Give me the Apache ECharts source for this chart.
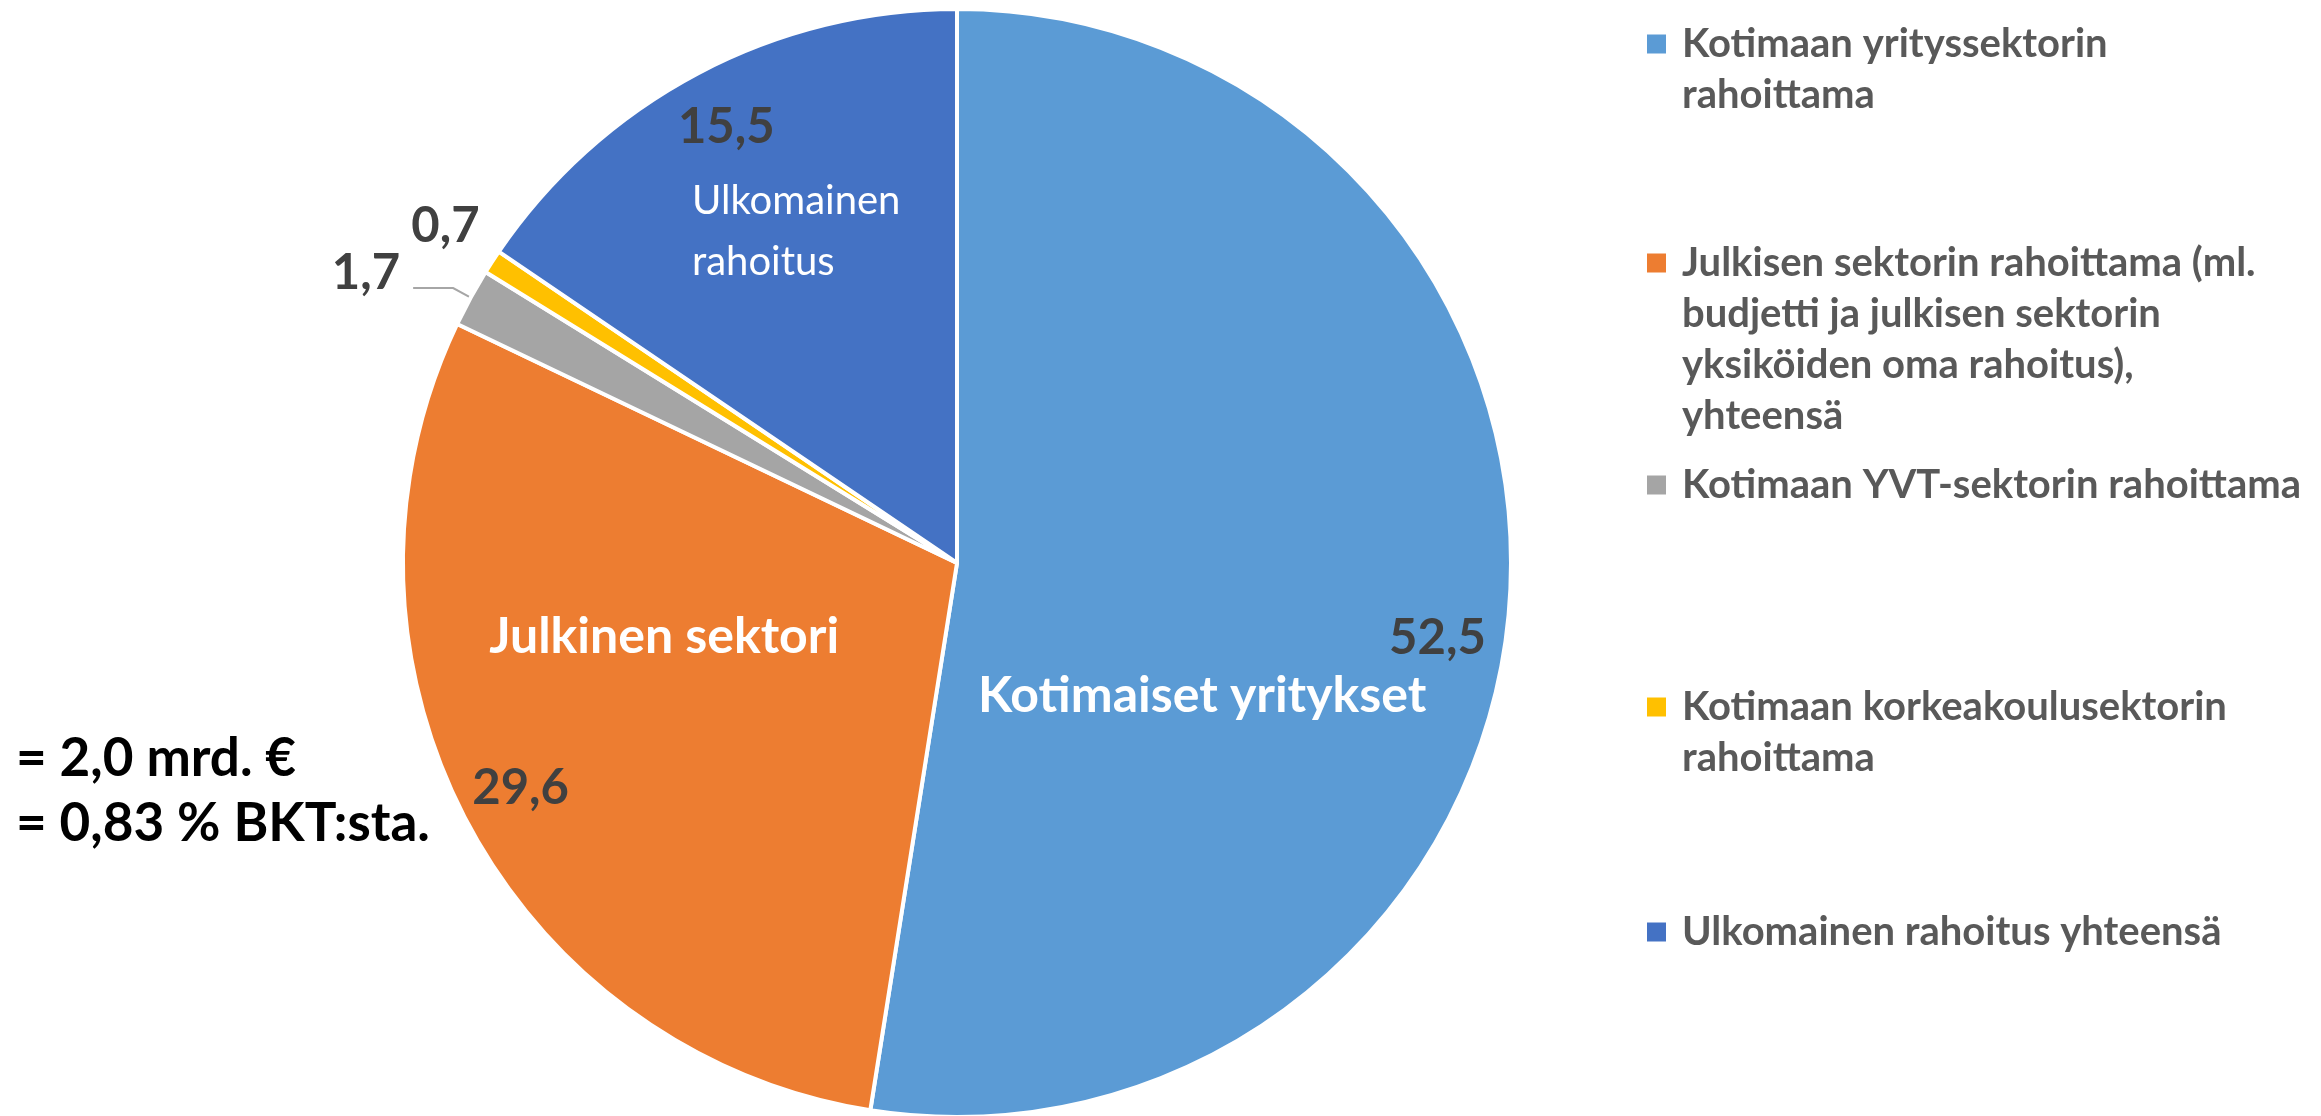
<!DOCTYPE html>
<html>
<head>
<meta charset="utf-8">
<script src="https://cdn.jsdelivr.net/npm/echarts@6/dist/echarts.min.js"></script>
<style>
  html, body { margin: 0; padding: 0; background: #fff; }
  #chart { width: 2321px; height: 1116px; }
</style>
</head>
<body>
<div id="chart"></div>
<script>
const legendLines = [
  ['Kotimaan yrityssektorin', 'rahoittama'],
  ['Julkisen sektorin rahoittama (ml.', 'budjetti ja julkisen sektorin', 'yksiköiden oma rahoitus),', 'yhteensä'],
  ['Kotimaan YVT-sektorin rahoittama'],
  ['Kotimaan korkeakoulusektorin', 'rahoittama'],
  ['Ulkomainen rahoitus yhteensä'],
]
const categories = legendLines.map((lines) => lines.join(' '))
const values = [52.5, 29.6, 1.7, 0.7, 15.5]
const sliceNames = ['Kotimaiset yritykset', 'Julkinen sektori', '', '', 'Ulkomainen\nrahoitus']
const totals = ['= 2,0 mrd. €', '= 0,83 % BKT:sta.']

const colors = ['#5B9BD5', '#ED7D31', '#A5A5A5', '#FFC000', '#4472C4']
const center = [957, 563]
const R = 554
const font = 'Lato, "Open Sans", sans-serif'

// label nudges (px) from the library's default spots
const valueShift = [[-11, 37], [0, -4], [-8, -15], [1, -30], [0, 0]]
const nameShift = [[-34, 111], [-45, -56], [0, 0], [0, 0], [-134, -84]]
const legendTops = [24, 243, 465, 687, 912]

const fmt = (v) => v.toFixed(1).replace('.', ',')

const chart = echarts.init(document.getElementById('chart'))

const rich = {
  g: { width: 16 },
  i: { width: 35 },
  t: { color: '#595959', fontFamily: font, fontWeight: 'bold', fontSize: 40, lineHeight: 51 },
}
colors.forEach((c, i) => {
  rich['s' + i] = { width: 19, height: 19, backgroundColor: c }
})

const legends = legendLines.map((lines, i) => ({
  orient: 'vertical',
  left: 1642,
  top: legendTops[i],
  padding: 0,
  icon: 'none',
  itemWidth: 0,
  itemGap: 0,
  selectedMode: false,
  data: [categories[i]],
  formatter: () => lines.map((l, j) => (j === 0 ? `{s${i}| }{g| }` : '{i| }') + `{t|${l}}`).join('\n'),
  textStyle: { rich },
}))

chart.setOption({
  animation: false,
  title: {
    text: totals.join('\n'),
    left: 16,
    top: 726,
    padding: 0,
    textStyle: { fontFamily: font, fontWeight: 'bold', fontSize: 53, color: '#000', lineHeight: 65 },
  },
  legend: legends,
  series: [
    {
      type: 'pie',
      center,
      radius: R,
      startAngle: 90,
      clockwise: true,
      silent: true,
      label: { show: false },
      labelLine: { show: false },
      itemStyle: { borderColor: '#fff', borderWidth: 4 },
      data: values.map((v, i) => ({ name: categories[i], value: v, itemStyle: { color: colors[i] } })),
    },
    {
      // value labels, placed on a transparent outer ring
      type: 'pie',
      center,
      radius: [426, R],
      startAngle: 90,
      clockwise: true,
      silent: true,
      avoidLabelOverlap: false,
      itemStyle: { color: 'rgba(0,0,0,0)', borderWidth: 0 },
      label: {
        show: true,
        position: 'inside',
        formatter: (p) => fmt(p.value),
        color: '#404040',
        fontFamily: font,
        fontWeight: 'bold',
        fontSize: 49,
      },
      labelLine: { show: false },
      labelLayout: (p) => ({ dx: valueShift[p.dataIndex][0], dy: valueShift[p.dataIndex][1] }),
      data: values.map((v, i) => {
        const d = { name: categories[i], value: v }
        if (i === 2) {
          d.label = { position: 'outside' }
          d.labelLine = { show: true, length: 20, length2: 40, lineStyle: { color: '#A6A6A6', width: 2 } }
        }
        if (i === 3) {
          d.label = { position: 'outside' }
          d.labelLine = { show: false, length: 10, length2: 0 }
        }
        return d
      }),
    },
    {
      // category names inside the big slices
      type: 'pie',
      center,
      radius: R,
      startAngle: 90,
      clockwise: true,
      silent: true,
      avoidLabelOverlap: false,
      itemStyle: { color: 'rgba(0,0,0,0)', borderWidth: 0 },
      label: {
        show: true,
        position: 'inside',
        formatter: (p) => sliceNames[p.dataIndex],
        color: '#fff',
        fontFamily: font,
        fontWeight: 'bold',
        fontSize: 50,
        lineHeight: 61,
      },
      labelLine: { show: false },
      labelLayout: (p) => {
        const o = { dx: nameShift[p.dataIndex][0], dy: nameShift[p.dataIndex][1] }
        if (p.dataIndex === 4) o.align = 'left'
        return o
      },
      data: values.map((v, i) => {
        const d = { name: categories[i], value: v }
        if (!sliceNames[i]) d.label = { show: false }
        if (i === 4) d.label = { fontWeight: 'normal', fontSize: 40 }
        return d
      }),
    },
  ],
})
</script>
</body>
</html>
